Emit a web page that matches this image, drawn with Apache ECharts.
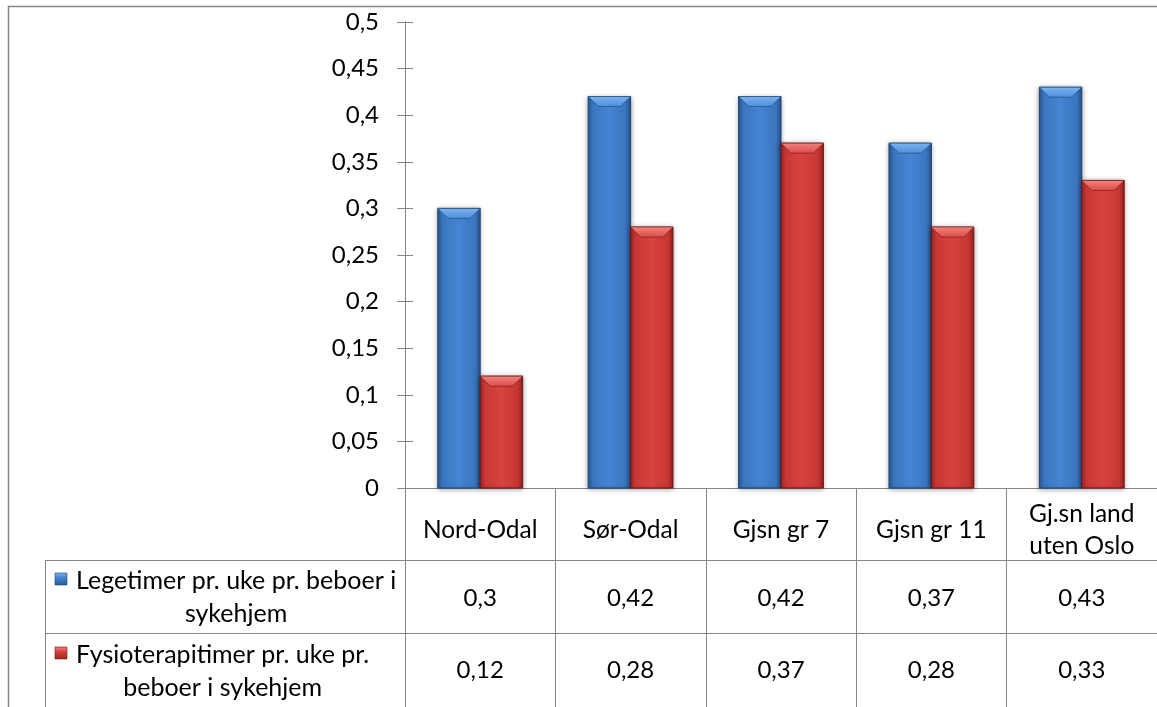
<!DOCTYPE html>
<html>
<head>
<meta charset="utf-8">
<script src="https://cdn.jsdelivr.net/npm/echarts@6/dist/echarts.min.js"></script>
<style>
  html, body { margin: 0; padding: 0; background: #fff; }
  #chart { width: 1157px; height: 707px; }
</style>
</head>
<body>
<div id="chart"></div>
<script>
// Categories and values per series
const categories = ['Nord-Odal', 'Sør-Odal', 'Gjsn gr 7', 'Gjsn gr 11', 'Gj.sn land\nuten Oslo'];
const legetimer = [0.3, 0.42, 0.42, 0.37, 0.43];
const fysioterapitimer = [0.12, 0.28, 0.37, 0.28, 0.33];
const seriesLabels = ['Legetimer pr. uke pr. beboer i\nsykehjem', 'Fysioterapitimer pr. uke pr.\nbeboer i sykehjem'];
const yMin = 0, yMax = 0.5, yStep = 0.05;

const FONT = 'Lato, "Liberation Sans", sans-serif';
const FS_NUM = 24;
const FS_CAT = 24.5;
const FS_LEG = 25;
const LINE = '#868686';

const comma = v => String(+(+v).toFixed(2)).replace('.', ',');

const palettes = [
  { face: ['#2b5891', '#3b76bf', '#4585d2', '#3a75be', '#28528a'], bevel: ['#7ab4f2', '#4c8cd8'], stroke: '#1f4574' },
  { face: ['#9a2523', '#c93835', '#d7433f', '#c63633', '#92211f'], bevel: ['#f3837e', '#db4b48'], stroke: '#6e1816' }
];

// Bevelled column drawn on the category band; side = -1 left of centre, +1 right
function bevelBar(side, pal) {
  return function (params, api) {
    const idx = api.value(0);
    const val = api.value(1);
    const topPt = api.coord([idx, val]);
    const basePt = api.coord([idx, 0]);
    const band = api.size([1, 0])[0];
    const w = band * 0.282;
    const x = side < 0 ? topPt[0] - w : topPt[0];
    const y = topPt[1];
    const h = basePt[1] - y;
    const b = Math.min(10, h / 2, w / 2);
    const G = echarts.graphic.LinearGradient;
    return {
      type: 'group',
      children: [
        {
          type: 'rect',
          shape: { x: x, y: y, width: w, height: h },
          style: {
            fill: new G(0, 0, 1, 0, pal.face.map((c, i) => ({ offset: [0, 0.12, 0.5, 0.88, 1][i], color: c }))),
            stroke: pal.stroke, lineWidth: 1,
            shadowBlur: 5, shadowColor: 'rgba(0,0,0,0.35)', shadowOffsetY: 1
          }
        },
        {
          type: 'polygon',
          shape: { points: [[x, y], [x + w, y], [x + w - b, y + b], [x + b, y + b]] },
          style: {
            fill: new G(0, 0, 0, 1, [{ offset: 0, color: pal.bevel[0] }, { offset: 1, color: pal.bevel[1] }]),
            stroke: pal.stroke, lineWidth: 0.6
          }
        }
      ]
    };
  };
}

const chart = echarts.init(document.getElementById('chart'), null, { renderer: 'canvas' });

// Centre each legend label block on its own widest line, right of the swatch
const ctx = document.createElement('canvas').getContext('2d');
ctx.font = FS_LEG + 'px ' + FONT;
const TEXT_LEFT = 76;
const legendGraphics = [];
const rowCentres = [597, 671];
seriesLabels.forEach((label, i) => {
  const widest = Math.max(...label.split('\n').map(s => ctx.measureText(s).width));
  const pal = palettes[i];
  legendGraphics.push({
    type: 'rect',
    shape: { x: 55, y: rowCentres[i] - 24, width: 12, height: 12 },
    style: {
      fill: new echarts.graphic.LinearGradient(0, 0, 0, 1, [
        { offset: 0, color: pal.bevel[0] }, { offset: 0.4, color: pal.face[2] }, { offset: 1, color: pal.face[0] }
      ]),
      stroke: pal.stroke, lineWidth: 0.6
    }
  });
  legendGraphics.push({
    type: 'text',
    x: TEXT_LEFT + widest / 2,
    y: rowCentres[i],
    style: {
      text: label, font: FS_LEG + 'px ' + FONT, fill: '#000',
      align: 'center', verticalAlign: 'middle', lineHeight: 33
    }
  });
});

const option = {
  animation: false,
  backgroundColor: '#fff',
  grid: { left: 405, top: 22, width: 780, height: 466 },
  yAxis: [
    {
      type: 'value', min: yMin, max: yMax, interval: yStep,
      axisLine: { show: true, lineStyle: { color: LINE, width: 1 } },
      axisTick: { show: true, inside: false, length: 8, lineStyle: { color: LINE } },
      splitLine: { show: false },
      axisLabel: { formatter: comma, color: '#000', fontFamily: FONT, fontSize: FS_NUM, margin: 26 }
    },
    {
      // inner half of the crossing tick marks
      type: 'value', min: yMin, max: yMax, interval: yStep, position: 'left',
      axisLine: { show: false },
      axisTick: { show: true, inside: true, length: 8, lineStyle: { color: LINE } },
      splitLine: { show: false },
      axisLabel: { show: false }
    }
  ],
  xAxis: [
    {
      type: 'category', data: categories, position: 'bottom',
      axisLine: { show: true, lineStyle: { color: LINE, width: 1 } },
      axisTick: { show: true, length: 219, lineStyle: { color: LINE } },
      axisLabel: { interval: 0, color: '#000', fontFamily: FONT, fontSize: FS_CAT, margin: 42, verticalAlign: 'middle', lineHeight: 32 }
    },
    {
      type: 'category', data: legetimer.map(comma), position: 'bottom',
      axisLine: { show: false }, axisTick: { show: false },
      axisLabel: { interval: 0, color: '#000', fontFamily: FONT, fontSize: FS_NUM, margin: 110, verticalAlign: 'middle' }
    },
    {
      type: 'category', data: fysioterapitimer.map(comma), position: 'bottom',
      axisLine: { show: false }, axisTick: { show: false },
      axisLabel: { interval: 0, color: '#000', fontFamily: FONT, fontSize: FS_NUM, margin: 182, verticalAlign: 'middle' }
    }
  ],
  series: [
    {
      name: seriesLabels[0].replace('\n', ' '), type: 'custom', xAxisIndex: 0, yAxisIndex: 0,
      renderItem: bevelBar(-1, palettes[0]),
      encode: { x: 0, y: 1 },
      data: legetimer.map((v, i) => [i, v])
    },
    {
      name: seriesLabels[1].replace('\n', ' '), type: 'custom', xAxisIndex: 0, yAxisIndex: 0,
      renderItem: bevelBar(1, palettes[1]),
      encode: { x: 0, y: 1 },
      data: fysioterapitimer.map((v, i) => [i, v])
    }
  ],
  graphic: [
    // chart frame
    { type: 'rect', shape: { x: 8.5, y: 6.5, width: 1300, height: 900 }, style: { fill: 'none', stroke: LINE, lineWidth: 1.5 }, silent: true },
    // data table rules
    { type: 'line', shape: { x1: 45, y1: 560.5, x2: 1157, y2: 560.5 }, style: { stroke: LINE, lineWidth: 1 } },
    { type: 'line', shape: { x1: 45, y1: 633.5, x2: 1157, y2: 633.5 }, style: { stroke: LINE, lineWidth: 1 } },
    { type: 'line', shape: { x1: 45.5, y1: 560.5, x2: 45.5, y2: 707 }, style: { stroke: LINE, lineWidth: 1 } },
    ...legendGraphics
  ]
};

chart.setOption(option);
</script>
</body>
</html>
